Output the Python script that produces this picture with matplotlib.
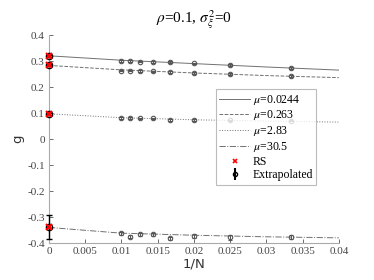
import numpy as np
import matplotlib.pyplot as plt
from matplotlib.lines import Line2D

# 1/N values of the simulated points
inv_n = [1 / 100, 1 / 90, 1 / 80, 1 / 70, 1 / 60, 1 / 50, 1 / 40, 1 / 30]
mu_labels = [r"$\mu$=0.0244", r"$\mu$=0.263", r"$\mu$=2.83", r"$\mu$=30.5"]
line_styles = ["-", "--", ":", "-."]

# simulated g for each mu
g_sim = [
    [0.300, 0.299, 0.298, 0.297, 0.296, 0.291, 0.285, 0.274],
    [0.263, 0.263, 0.261, 0.260, 0.258, 0.254, 0.249, 0.242],
    [0.080, 0.080, 0.079, 0.079, 0.074, 0.073, 0.072, 0.071],
    [-0.363, -0.376, -0.367, -0.367, -0.382, -0.372, -0.378, -0.378],
]
g_sim_err = [
    [0.003] * 8,
    [0.003] * 8,
    [0.003] * 8,
    [0.005, 0.005, 0.006, 0.006, 0.007, 0.007, 0.010, 0.007],
]

# fitted curves, sampled on a coarse grid
fit_x = [0, 0.01, 0.02, 0.03, 0.04]
fit_g = [
    [0.320, 0.303, 0.290, 0.277, 0.265],
    [0.283, 0.266, 0.254, 0.244, 0.236],
    [0.097, 0.082, 0.074, 0.069, 0.065],
    [-0.340, -0.362, -0.370, -0.376, -0.380],
]

# extrapolated values at 1/N = 0 and RS predictions
g_extrap = [0.320, 0.283, 0.097, -0.340]
g_extrap_err = [0.004, 0.004, 0.004, 0.046]
g_rs = [0.320, 0.283, 0.097, -0.340]

plt.rcParams["font.family"] = ["Liberation Serif", "DejaVu Serif"]
plt.rcParams["mathtext.fontset"] = "stix"

fig = plt.figure(figsize=(3.74, 2.80), dpi=100)
ax = fig.add_axes([0.131, 0.132, 0.775, 0.743])

line_col = "#707070"
pt_col = "#555555"
for i in range(4):
    ax.plot(fit_x, fit_g[i], line_styles[i], color=line_col, lw=0.7)
    ax.errorbar(inv_n, g_sim[i], yerr=g_sim_err[i], fmt="o", ms=3.2,
                mfc="none", mec=pt_col, ecolor=pt_col, mew=0.8,
                elinewidth=0.7, capsize=1.5, zorder=3)
    ax.errorbar([0], [g_extrap[i]], yerr=[g_extrap_err[i]], fmt="o", ms=4.5,
                mfc="none", mec="black", ecolor="black", mew=1.0,
                elinewidth=1.0, capsize=2.5, zorder=4, clip_on=False)
    ax.plot([0], [g_rs[i]], "x", color="red", ms=4.5, mew=1.5, zorder=5,
            clip_on=False)

ax.set_xlim(0, 0.04)
ax.set_ylim(-0.4, 0.4)
ax.set_xticks(np.arange(0, 0.0401, 0.005))
ax.set_xticklabels(["0", "0.005", "0.01", "0.015", "0.02", "0.025",
                    "0.03", "0.035", "0.04"])
ax.set_yticks(np.arange(-0.4, 0.401, 0.1))
ax.set_yticklabels(["-0.4", "-0.3", "-0.2", "-0.1", "0", "0.1", "0.2",
                    "0.3", "0.4"])
ax.tick_params(direction="in", length=3, width=0.6, labelsize=8,
               colors="#555555", labelcolor="#444444", pad=3)
for s in ["top", "right"]:
    ax.spines[s].set_visible(False)
for s in ["left", "bottom"]:
    ax.spines[s].set_color("#aaaaaa")
    ax.spines[s].set_linewidth(0.8)

ax.set_xlabel("1/N", fontsize=9.5, family="DejaVu Sans", color="#333333",
              labelpad=1)
ax.set_ylabel("g", fontsize=9.5, family="DejaVu Sans", color="#333333",
              labelpad=2)
ax.set_title(r"$\rho$=0.1, $\sigma_{\xi}^{2}$=0", fontsize=11, pad=9)

handles = [Line2D([], [], ls=line_styles[i], color=line_col, lw=0.7)
           for i in range(4)]
handles.append(Line2D([], [], ls="none", marker="x", color="red", ms=3,
                      mew=1.2))
handles.append(ax.errorbar([], [], yerr=[], fmt="o", ms=3, mfc="none",
                           mec="black", ecolor="black", capsize=2))
leg = ax.legend(handles, mu_labels + ["RS", "Extrapolated"],
                loc="upper left", bbox_to_anchor=(0.576, 0.74),
                fontsize=8.5, frameon=True, fancybox=False,
                handlelength=2.6, handletextpad=0.2, labelspacing=0.15,
                borderpad=0.3, borderaxespad=0)
leg.get_frame().set_edgecolor("#aaaaaa")
leg.get_frame().set_linewidth(0.8)

fig.savefig("out.png", dpi=100)
